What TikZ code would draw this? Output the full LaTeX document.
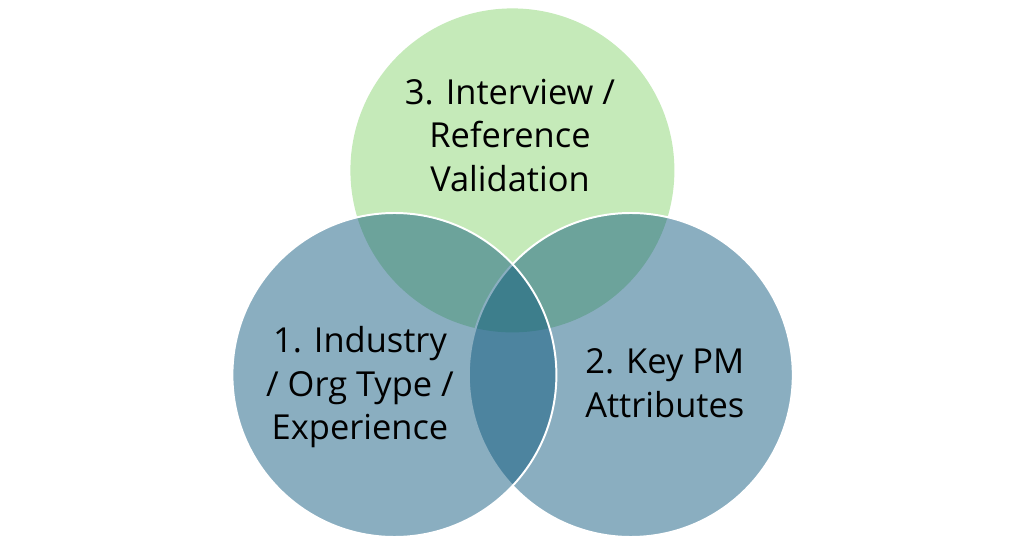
\documentclass[tikz,border=0pt]{standalone}
\usepackage{fontspec}
\setmainfont{Open Sans}
\definecolor{kolmas}{RGB}{197,234,185}
\definecolor{sininen}{RGB}{11,86,124}
\begin{document}
\begin{tikzpicture}
\tikzset{
  ympyra/.style={circle, minimum size=8.1cm, inner sep=0pt, outer sep=0pt},
  sini/.style={ympyra, fill=sininen, fill opacity=0.48, draw=white, line width=1.4pt},
  teksti/.style={align=center, font=\fontsize{24.5}{30.9}\selectfont}
}
\useasboundingbox (0,0) rectangle (25.6,13.65);
\node[ympyra, fill=kolmas] (3) at (12.81,9.39) {};
\node[sini] (2) at (15.77,4.275) {};
\node[sini] (1) at (9.86,4.275) {};
\node[teksti] (t3) at (12.75,10.27) {3. Interview /\\Reference\\Validation};
\node[teksti] (t1) at (9.0,3.97) {1. Industry\\/ Org Type /\\Experience};
\node[teksti] (t2) at (16.62,4.07) {2. Key PM\\Attributes};
\end{tikzpicture}
\end{document}
